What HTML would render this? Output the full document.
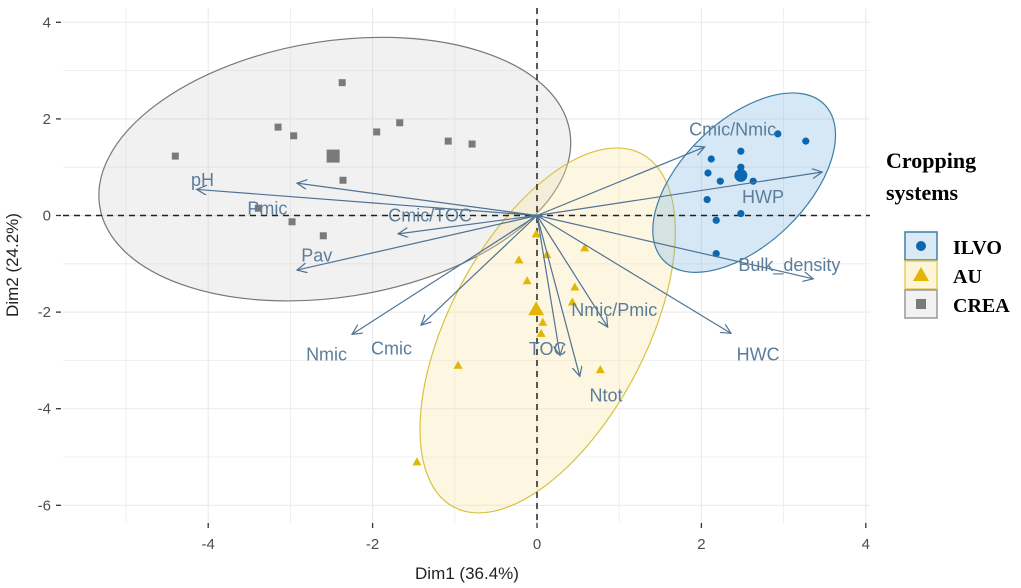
<!DOCTYPE html>
<html><head><meta charset="utf-8"><style>
body{margin:0;background:#fff;}
svg{display:block;font-family:"Liberation Sans",sans-serif;}
</style></head><body>
<svg id="chart" width="1021" height="588"></svg>
<script>
const xTicks=[-4,-2,0,2,4];
const yTicks=[4,2,0,-2,-4,-6];
const creaX=[-4.40,-3.15,-2.96,-2.37,-2.36,-1.95,-1.67,-1.08,-0.79,-3.39,-2.98,-2.60];
const creaY=[1.23,1.83,1.65,2.75,0.73,1.73,1.92,1.54,1.48,0.15,-0.13,-0.42];
const creaMean=[-2.48,1.23];
const ilvoX=[2.12,2.08,2.23,2.48,2.48,2.63,2.93,3.27,2.07,2.18,2.48,2.18];
const ilvoY=[1.17,0.88,0.71,1.33,1.0,0.71,1.69,1.54,0.33,-0.10,0.04,-0.79];
const ilvoMean=[2.48,0.83];
const auX=[-0.01,-0.22,0.12,0.58,-0.12,0.46,0.43,0.05,0.07,-0.96,0.77,-1.46];
const auY=[-0.38,-0.92,-0.81,-0.67,-1.35,-1.48,-1.79,-2.44,-2.21,-3.10,-3.19,-5.10];
const auMean=[-0.01,-1.94];
const varNames=["pH","Pmic","Cmic/TOC","Pav","Nmic","Cmic","TOC","Ntot","Nmic/Pmic","HWC","Bulk_density","HWP","Cmic/Nmic"];
const varX=[-4.14,-2.92,-1.69,-2.92,-2.25,-1.41,0.28,0.52,0.86,2.36,3.36,3.47,2.04];
const varY=[0.54,0.67,-0.38,-1.13,-2.46,-2.27,-2.90,-3.33,-2.31,-2.44,-1.31,0.90,1.42];
const labX=[-4.07,-3.28,-1.30,-2.68,-2.56,-1.77,0.13,0.84,0.94,2.69,3.07,2.75,2.38];
const labY=[0.73,0.15,0.0,-0.83,-2.88,-2.75,-2.76,-3.73,-1.96,-2.88,-1.02,0.38,1.78];
const ellCX=[-2.46,0.13,2.52];
const ellCY=[0.96,-2.38,0.68];
const ellRX=[238,200,112];
const ellRY=[128,98,62];
const ellRot=[-9,-62,-44];
const ellFill=["rgba(200,200,200,0.25)","rgba(250,230,170,0.35)","rgba(120,180,225,0.3)"];
const ellStroke=["#777","#d8c240","#3c7fa8"];
const ellNames=["crea-ellipse","au-ellipse","ilvo-ellipse"];

const X=v=>537+82.2*v, Y=v=>215.5-48.3*v;
const NS="http://www.w3.org/2000/svg";
const svg=document.getElementById('chart');
function mk(t,a,p){const e=document.createElementNS(NS,t);for(const k in a)e.setAttribute(k,a[k]);(p||svg).appendChild(e);return e;}
const defs=mk('defs',{});
const mkr=mk('marker',{id:'ah',markerWidth:12,markerHeight:12,refX:10,refY:5,orient:'auto',markerUnits:'userSpaceOnUse'},defs);
mk('path',{d:'M0,0 L10,5 L0,10',fill:'none',stroke:'#4f7394','stroke-width':1.2},mkr);

const grid=mk('g',{});


for(let v=-5;v<=4;v++){mk('line',{x1:X(v),x2:X(v),y1:8,y2:523,stroke:'#ebebeb','stroke-width':v%2?0.8:1.2},grid);}
for(let v=-6;v<=4;v++){mk('line',{x1:63,x2:870,y1:Y(v),y2:Y(v),stroke:'#ebebeb','stroke-width':v%2?0.8:1.2},grid);}
for(let i=0;i<3;i++){
 const e=mk('ellipse',{cx:X(ellCX[i]),cy:Y(ellCY[i]),rx:ellRX[i],ry:ellRY[i],fill:ellFill[i],stroke:ellStroke[i],'stroke-width':1.2,transform:`rotate(${ellRot[i]} ${X(ellCX[i])} ${Y(ellCY[i])})`});
 
 
}
mk('line',{x1:63,x2:870,y1:Y(0),y2:Y(0),stroke:'#222','stroke-width':1.5,'stroke-dasharray':'6,5'});
mk('line',{x1:X(0),x2:X(0),y1:8,y2:523,stroke:'#222','stroke-width':1.5,'stroke-dasharray':'6,5'});
for(let i=0;i<creaX.length;i++){const s=mk('rect',{x:X(creaX[i])-3.5,y:Y(creaY[i])-3.5,width:7,height:7,fill:'#7a7a7a'});
 }
{const s=mk('rect',{x:X(creaMean[0])-6.5,y:Y(creaMean[1])-6.5,width:13,height:13,fill:'#7a7a7a'});}
for(let i=0;i<auX.length;i++){const x=X(auX[i]),y=Y(auY[i]);const s=mk('polygon',{points:`${x},${y-4.5} ${x+4.5},${y+3.5} ${x-4.5},${y+3.5}`,fill:'#e3b505'});
 }
{const x=X(auMean[0]),y=Y(auMean[1]);const s=mk('polygon',{points:`${x},${y-8} ${x+8},${y+6} ${x-8},${y+6}`,fill:'#e3b505'});}
for(let i=0;i<ilvoX.length;i++){const s=mk('circle',{cx:X(ilvoX[i]),cy:Y(ilvoY[i]),r:3.6,fill:'#0b68b0'});
 }
{const s=mk('circle',{cx:X(ilvoMean[0]),cy:Y(ilvoMean[1]),r:6.5,fill:'#0b68b0'});}
for(let i=0;i<varNames.length;i++){
 const a=mk('line',{x1:X(0),y1:Y(0),x2:X(varX[i]),y2:Y(varY[i]),stroke:'#4f7394','stroke-width':1.2,'marker-end':'url(#ah)'});
 
 const t=mk('text',{x:X(labX[i]),y:Y(labY[i])+6,'text-anchor':'middle','font-size':18,fill:'#5b7d9c'});
 t.textContent=varNames[i];
 
}
for(const v of xTicks){mk('line',{x1:X(v),x2:X(v),y1:523,y2:528,stroke:'#333','stroke-width':1.3});
 const t=mk('text',{x:X(v),y:549,'text-anchor':'middle','font-size':15,fill:'#4d4d4d'});t.textContent=v;
 }
for(const v of yTicks){mk('line',{x1:56,x2:61,y1:Y(v),y2:Y(v),stroke:'#333','stroke-width':1.3});
 const t=mk('text',{x:51,y:Y(v)+5,'text-anchor':'end','font-size':15,fill:'#4d4d4d'});t.textContent=v;
 }
</script>
<svg style="position:absolute;left:0;top:0" width="1021" height="588">
<text x="467" y="579" text-anchor="middle" font-size="17" fill="#222" font-family="Liberation Sans,sans-serif">Dim1 (36.4%)</text>
<text x="0" y="0" transform="translate(18,265) rotate(-90)" text-anchor="middle" font-size="17" fill="#222" font-family="Liberation Sans,sans-serif">Dim2 (24.2%)</text>
<g font-family="Liberation Serif,serif" font-weight="bold" font-size="22" fill="#000">
<text x="886" y="168">Cropping</text>
<text x="886" y="200">systems</text>
<rect x="905" y="232" width="32" height="28" fill="#dbe9f5" stroke="#3c7fa8" stroke-width="1.5"/>
<circle cx="921" cy="246" r="5" fill="#0b68b0"/>
<text x="953" y="254" font-size="20">ILVO</text>
<rect x="905" y="261" width="32" height="28" fill="#fdf5d8" stroke="#e3cf5a" stroke-width="1.5"/>
<polygon points="921,267 929,281 913,281" fill="#e3b505"/>
<text x="953" y="283" font-size="20">AU</text>
<rect x="905" y="290" width="32" height="28" fill="#f2f2f2" stroke="#999" stroke-width="1.5"/>
<rect x="916" y="299" width="10" height="10" fill="#7a7a7a"/>
<text x="953" y="312" font-size="20">CREA</text>
</g>
</svg>
</body></html>
